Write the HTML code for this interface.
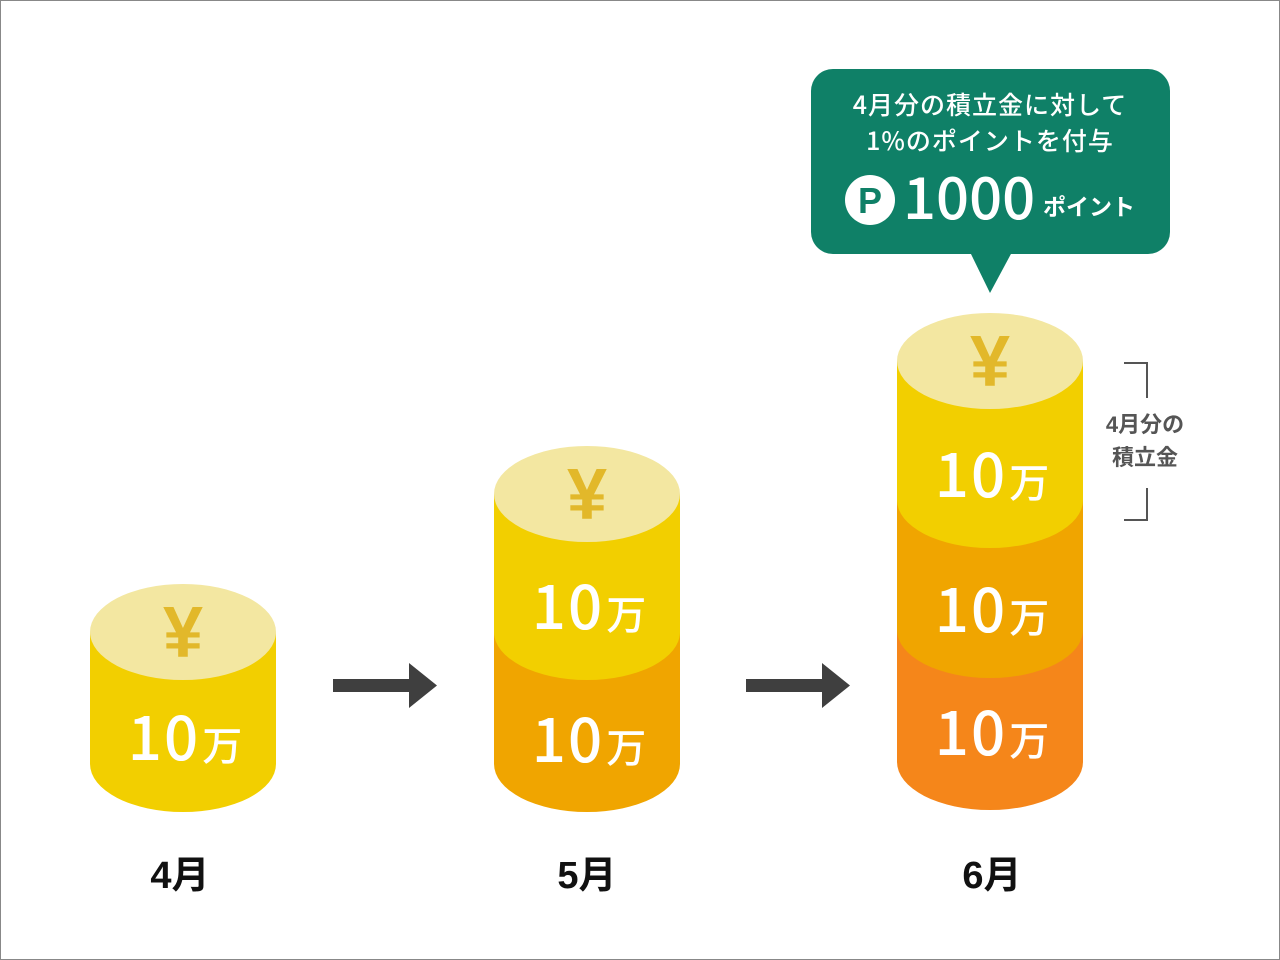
<!DOCTYPE html>
<html><head><meta charset="utf-8"><style>
html,body{margin:0;padding:0;background:#fff}
svg{display:block}
text{font-family:"Liberation Sans","Noto Sans CJK JP",sans-serif}
.n{font-family:"Noto Sans CJK JP",sans-serif;font-weight:500}
</style></head><body>
<svg width="1280" height="960" viewBox="0 0 1280 960" xmlns="http://www.w3.org/2000/svg">
<rect x="0.5" y="0.5" width="1279" height="959" fill="#fff" stroke="#888"/>
<defs>
<g id="yen"><text x="0" y="0" text-anchor="middle" font-size="72" font-weight="900" fill="#e2b82a" font-family="Noto Sans CJK JP,sans-serif">¥</text></g>
</defs>
<!-- 4月 -->
<g>
<path d="M90 632 V764 A93 48 0 0 0 276 764 V632 Z" fill="#f2cf00"/>
<ellipse cx="183" cy="632" rx="93" ry="48" fill="#f3e7a1"/>
<use href="#yen" x="183" y="657"/>
<text class="n" x="185" y="760" text-anchor="middle" fill="#fff"><tspan font-size="60" letter-spacing="2">10</tspan><tspan font-size="40" dx="2">万</tspan></text>
</g>
<!-- 5月 -->
<g>
<path d="M494 632 V764 A93 48 0 0 0 680 764 V632 Z" fill="#f0a500"/>
<path d="M494 494 V632 A93 48 0 0 0 680 632 V494 Z" fill="#f2cf00"/>
<ellipse cx="587" cy="494" rx="93" ry="48" fill="#f3e7a1"/>
<use href="#yen" x="587" y="519"/>
<text class="n" x="589" y="629" text-anchor="middle" fill="#fff"><tspan font-size="60" letter-spacing="2">10</tspan><tspan font-size="40" dx="2">万</tspan></text>
<text class="n" x="589" y="762" text-anchor="middle" fill="#fff"><tspan font-size="60" letter-spacing="2">10</tspan><tspan font-size="40" dx="2">万</tspan></text>
</g>
<!-- 6月 -->
<g>
<path d="M897 630 V762 A93 48 0 0 0 1083 762 V630 Z" fill="#f5861a"/>
<path d="M897 500 V630 A93 48 0 0 0 1083 630 V500 Z" fill="#f0a500"/>
<path d="M897 361 V500 A93 48 0 0 0 1083 500 V361 Z" fill="#f2cf00"/>
<ellipse cx="990" cy="361" rx="93" ry="48" fill="#f3e7a1"/>
<use href="#yen" x="990" y="386"/>
<text class="n" x="992" y="497" text-anchor="middle" fill="#fff"><tspan font-size="60" letter-spacing="2">10</tspan><tspan font-size="40" dx="2">万</tspan></text>
<text class="n" x="992" y="632" text-anchor="middle" fill="#fff"><tspan font-size="60" letter-spacing="2">10</tspan><tspan font-size="40" dx="2">万</tspan></text>
<text class="n" x="992" y="755" text-anchor="middle" fill="#fff"><tspan font-size="60" letter-spacing="2">10</tspan><tspan font-size="40" dx="2">万</tspan></text>
</g>
<!-- arrows -->
<path d="M333 679 H409 V663 L437 685.5 L409 708 V692 H333 Z" fill="#3f3f3f"/>
<path d="M746 679 H822 V663 L850 685.5 L822 708 V692 H746 Z" fill="#3f3f3f"/>
<!-- month labels -->
<text x="180" y="888" text-anchor="middle" font-size="38" font-weight="bold" fill="#111">4月</text>
<text x="587" y="888" text-anchor="middle" font-size="38" font-weight="bold" fill="#111">5月</text>
<text x="992" y="888" text-anchor="middle" font-size="38" font-weight="bold" fill="#111">6月</text>
<!-- bracket -->
<path d="M1124 363 H1147 V398 M1147 488 V520 H1124" fill="none" stroke="#555" stroke-width="2"/>
<text x="1145" y="432" text-anchor="middle" font-size="22" font-weight="bold" fill="#555">4月分の</text>
<text x="1145" y="465" text-anchor="middle" font-size="22" font-weight="bold" fill="#555">積立金</text>
<!-- bubble -->
<rect x="811" y="69" width="359" height="185" rx="22" fill="#0f8067"/>
<path d="M970 252 L990 293 L1012 252 Z" fill="#0f8067"/>
<text class="n" x="990" y="114" text-anchor="middle" font-size="25" fill="#fff" letter-spacing="1">4月分の積立金に対して</text>
<text class="n" x="990" y="150" text-anchor="middle" font-size="25" fill="#fff" letter-spacing="1">1%のポイントを付与</text>
<circle cx="870" cy="200" r="25" fill="#fff"/>
<text x="870" y="213" text-anchor="middle" font-size="36" font-weight="bold" fill="#0f8067">P</text>
<text class="n" x="903" y="219" font-size="58" fill="#fff">1000</text>
<text x="1043" y="215" font-size="23" font-weight="bold" fill="#fff">ポイント</text>
</svg>
</body></html>
